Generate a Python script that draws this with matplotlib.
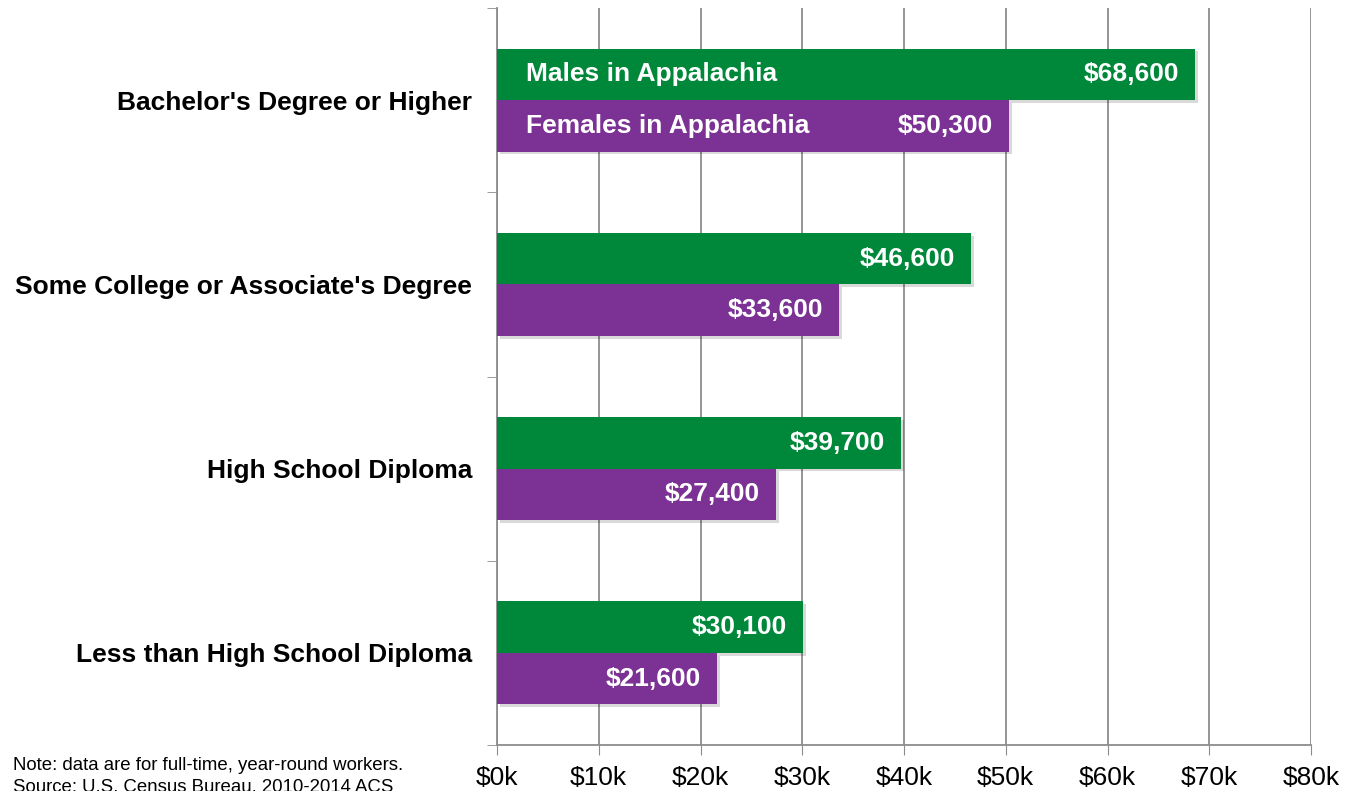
import matplotlib as mpl
mpl.use('Agg')
import matplotlib.pyplot as plt
import matplotlib.patheffects as pe
import numpy as np

plt.rcParams['font.family'] = ['Liberation Sans', 'DejaVu Sans']

# data, top category first
categories = ["Bachelor's Degree or Higher",
              "Some College or Associate's Degree",
              "High School Diploma",
              "Less than High School Diploma"]
males = [68600, 46600, 39700, 30100]
females = [50300, 33600, 27400, 21600]
series_names = ['Males in Appalachia', 'Females in Appalachia']
x_ticks = [0, 10000, 20000, 30000, 40000, 50000, 60000, 70000, 80000]
x_labels = ['$0k', '$10k', '$20k', '$30k', '$40k', '$50k', '$60k', '$70k', '$80k']

green = '#00883A'
purple = '#7B3294'
grid_gray = '#8C8C8C'

fig = plt.figure(figsize=(13.48, 7.91), dpi=100)
ax = fig.add_axes([497 / 1348, 46 / 791, 814 / 1348, 737 / 791])

y = np.arange(len(categories))  # 0 at top after inversion
h = 0.28
shadow = [pe.SimplePatchShadow(offset=(2, -2), shadow_rgbFace='k', alpha=0.15), pe.Normal()]
bm = ax.barh(y - h / 2, males, height=h, color=green, zorder=3, path_effects=shadow)
bf = ax.barh(y + h / 2, females, height=h, color=purple, zorder=3, path_effects=shadow)

ax.set_xlim(0, 80000)
ax.set_ylim(len(categories) - 0.5, -0.5)

# value labels inside bar ends
for bars, vals in ((bm, males), (bf, females)):
    for b, v in zip(bars, vals):
        ax.annotate('${:,}'.format(v), xy=(v, b.get_y() + b.get_height() / 2),
                    xytext=(-16, 0), textcoords='offset pixels',
                    ha='right', va='center', color='white', fontsize=19,
                    fontweight='bold', zorder=5)

# series names inside the first pair of bars
for bars, name in ((bm, series_names[0]), (bf, series_names[1])):
    b = bars[0]
    ax.annotate(name, xy=(0, b.get_y() + b.get_height() / 2), xytext=(29, 0),
                textcoords='offset pixels', ha='left', va='center', color='white',
                fontsize=19, fontweight='bold', zorder=5)

# category labels
ax.set_yticks(y)
ax.set_yticklabels(categories, fontsize=19, fontweight='bold')
ax.tick_params(axis='y', length=0, pad=18)
ax.set_yticks(np.arange(len(categories) + 1) - 0.5, minor=True)
ax.tick_params(axis='y', which='minor', length=7, color=grid_gray, direction='out')

ax.set_xticks(x_ticks)
ax.set_xticklabels(x_labels, fontsize=19)
ax.tick_params(axis='x', length=7, color=grid_gray, pad=8)

ax.grid(axis='x', color=grid_gray, linewidth=1.3, zorder=0)
for side in ('top', 'right'):
    ax.spines[side].set_visible(False)
for side in ('left', 'bottom'):
    ax.spines[side].set_color(grid_gray)
    ax.spines[side].set_linewidth(1.3)

fig.text(13 / 1348, 1 - 765 / 791, 'Note: data are for full-time, year-round workers.',
         fontsize=13.4, va='center', ha='left')
fig.text(13 / 1348, 1 - 787 / 791, 'Source: U.S. Census Bureau, 2010-2014 ACS',
         fontsize=13.4, va='center', ha='left')

fig.savefig('out.png', dpi=100)
